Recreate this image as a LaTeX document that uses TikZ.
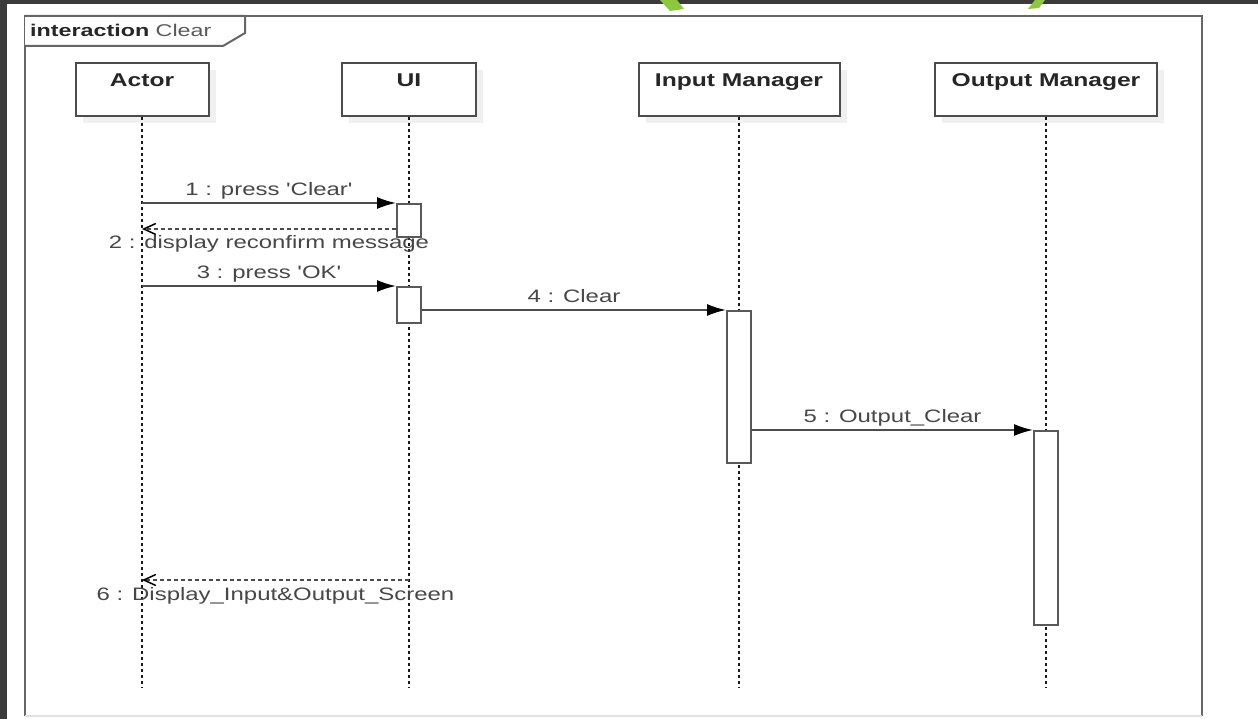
\documentclass[tikz,border=0pt]{standalone}
\usepackage{fontspec}
\setmainfont{Liberation Sans}
\usepackage{graphicx}
\usepackage{xcolor}
\usepackage{tikz}
\usetikzlibrary{arrows.meta,shadows}
\definecolor{slate}{HTML}{3B3B3B}
\definecolor{leafgreen}{RGB}{141,198,63}
\newcommand{\stretchtxt}[1]{\scalebox{1.33}[1]{#1}}

\begin{document}
\begin{tikzpicture}[x=1pt, y=-1pt,
    frame/.style={draw=black!60, line width=2pt},
    head/.style={draw=black!70, line width=2pt, fill=white, inner sep=0pt,
      text height=24pt, text depth=29pt, text=black!85,
      font=\bfseries\fontsize{18.5}{20}\selectfont,
      drop shadow={shadow xshift=7pt, shadow yshift=-7pt, fill=black!6, opacity=1}},
    act/.style={draw=black!65, line width=2pt, fill=white, inner sep=0pt, minimum width=24pt},
    lifeline/.style={draw=black!90, line width=1.9pt, dash pattern=on 3pt off 3pt},
    msg/.style={draw=black!70, line width=1.8pt, -{Latex[length=19pt,width=12pt,color=black]}},
    reply/.style={draw=black!70, line width=1.5pt, dash pattern=on 4pt off 3pt,
      -{Straight Barb[length=12pt,width=11pt,color=black]}},
    lbl/.style={font=\fontsize{18}{20}\selectfont, text=black!72, inner sep=0pt, anchor=base}]
    \useasboundingbox (0,0) rectangle (1258,719);
    \fill[white] (0,0) rectangle (1258,719);
    \fill[slate] (0,0) rectangle (7,719);
    \fill[slate] (0,0) rectangle (1258,4);
    \fill[leafgreen] (660,0) -- (677,0) -- (684,9) -- (670,11) -- cycle;
    \fill[leafgreen] (1035,0) -- (1045,0) -- (1039,8) -- (1028,9) -- cycle;

    \draw[frame] (25,716) -- (25,16) -- (1202,16) -- (1202,716);
    \draw[draw=black!12, line width=1.5pt] (25,716) -- (1202,716);
    \draw[frame, fill=white] (25,16) -- (245,16) -- (245,33) -- (223,46) -- (25,46);
    \node[anchor=base west, inner sep=0pt, text=black!85, font=\fontsize{17}{20}\selectfont]
      (title) at (30,37) {\scalebox{1.37}[1]{\textbf{interaction} \textcolor{black!65}{Clear}}};

    \node[head, minimum width=133pt] (actor) at (142,89.5) {\stretchtxt{Actor}};
    \node[head, minimum width=134pt] (ui) at (409,89.5) {\stretchtxt{UI}};
    \node[head, minimum width=201pt] (inm) at (739,89.5) {\stretchtxt{Input Manager}};
    \node[head, minimum width=222pt] (outm) at (1046,89.5) {\stretchtxt{Output Manager}};

    \foreach \n in {actor,ui,inm,outm}
      \draw[lifeline] (\n.south) -- (\n.south |- 0,688);

    \node[act, minimum height=33pt] (ui1) at (409,220.5) {};
    \node[act, minimum height=36pt] (ui2) at (409,305) {};
    \node[act, minimum height=152pt] (inm1) at (739,387) {};
    \node[act, minimum height=194pt] (outm1) at (1046,528) {};

    \draw[msg] (actor |- ui1.north) -- (ui1.north west)
      node[lbl, midway, yshift=7.5pt] {\stretchtxt{1 : press \textquotesingle Clear\textquotesingle}};
    \draw[reply] (ui1.west |- 0,229) -- (actor |- 0,229)
      node[lbl, midway, yshift=-20pt] {\stretchtxt{2 : display reconfirm message}};
    \draw[msg] (actor |- ui2.north) -- (ui2.north west)
      node[lbl, midway, yshift=7.5pt] {\stretchtxt{3 : press \textquotesingle OK\textquotesingle}};
    \draw[msg] (ui2.east |- inm1.north) -- (inm1.north west)
      node[lbl, midway, yshift=8pt] {\stretchtxt{4 : Clear}};
    \draw[msg] (inm1.east |- outm1.north) -- (outm1.north west)
      node[lbl, midway, yshift=8pt] {\stretchtxt{5 : Output\_Clear}};
    \draw[reply] (ui |- 0,580) -- (actor |- 0,580)
      node[lbl, midway, yshift=-20pt] {\stretchtxt{6 : Display\_Input\&Output\_Screen}};
\end{tikzpicture}
\end{document}
